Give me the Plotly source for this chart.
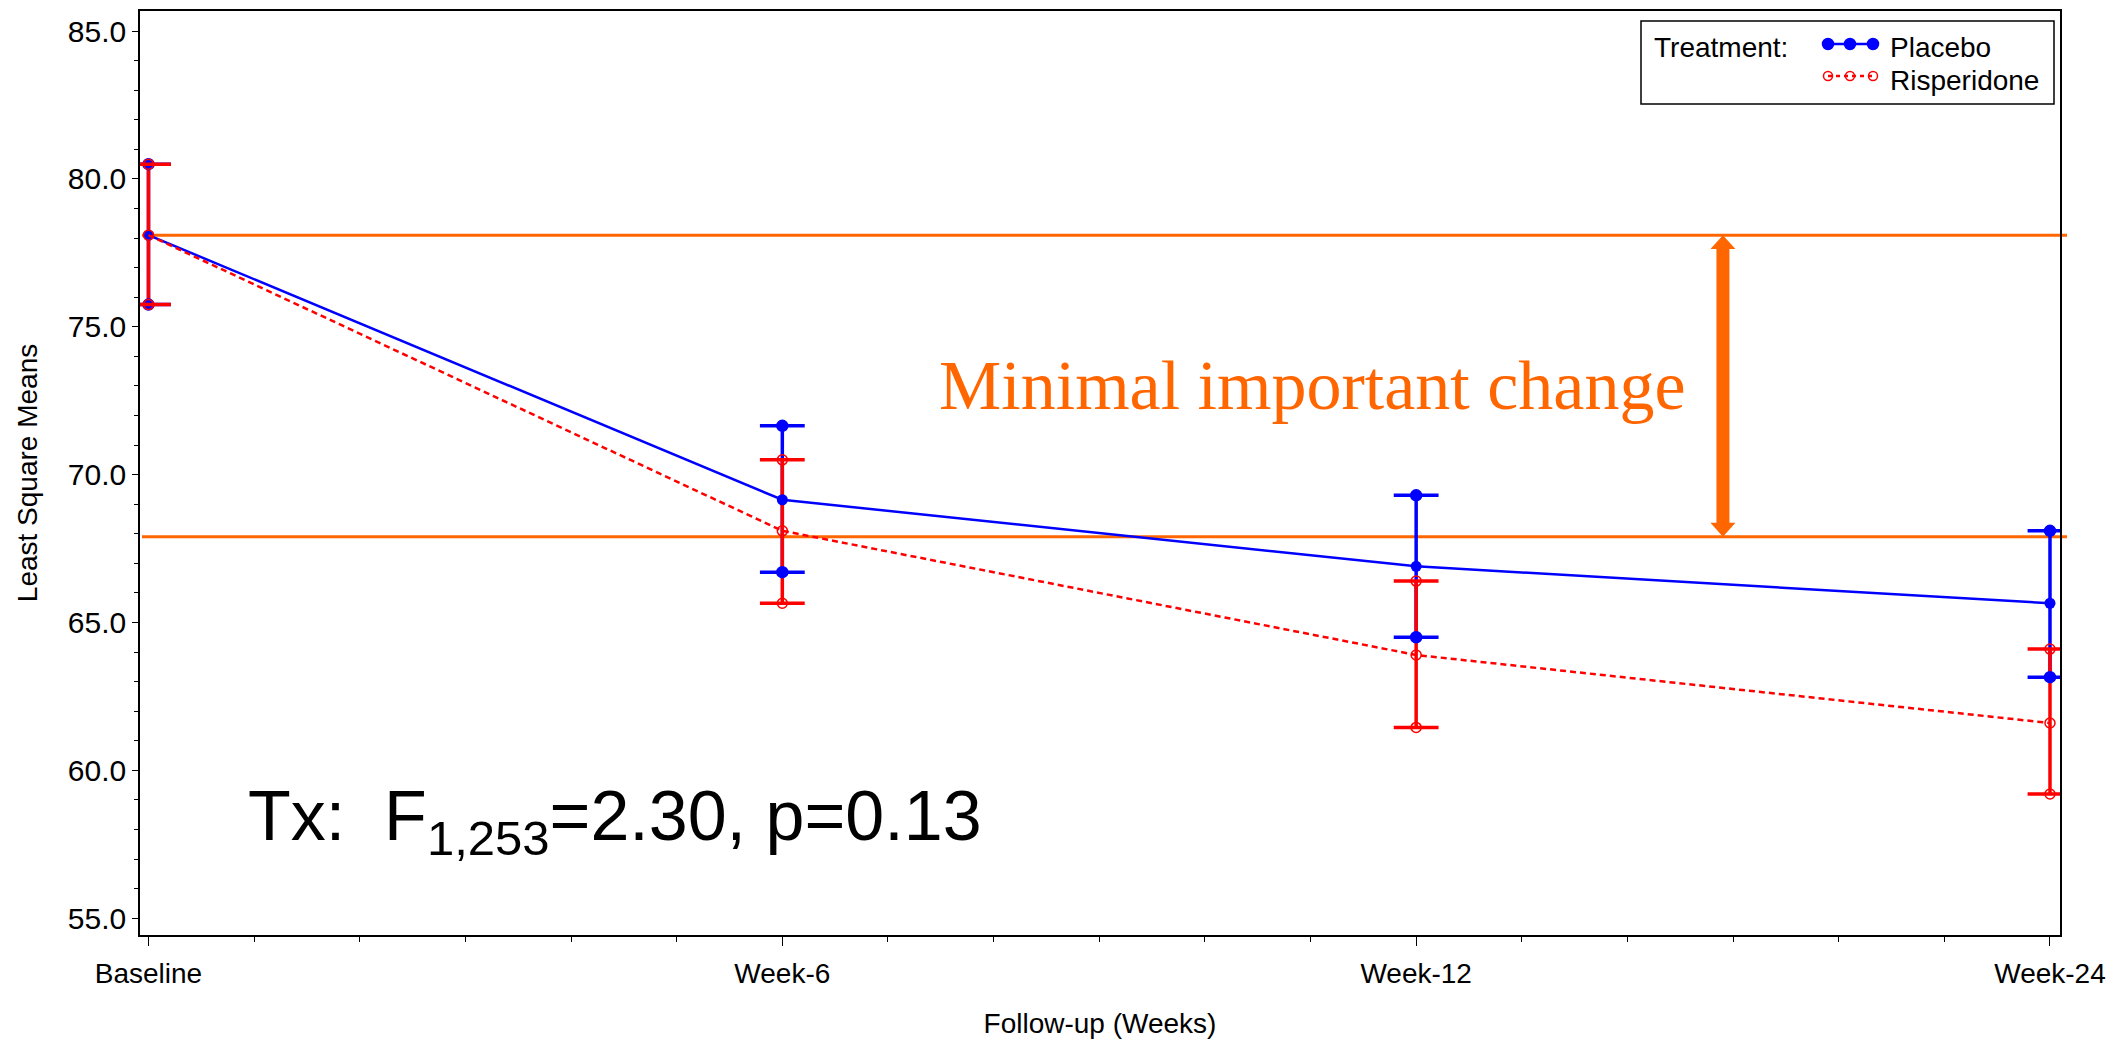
import plotly.graph_objects as go

# ---- data ----
visits = ["Baseline", "Week-6", "Week-12", "Week-24"]
placebo_mean = [78.1, 69.15, 66.9, 65.65]
placebo_upper = [80.5, 71.65, 69.3, 68.1]
placebo_lower = [75.75, 66.7, 64.5, 63.15]
risp_mean = [78.1, 68.1, 63.9, 61.6]
risp_upper = [80.5, 70.5, 66.4, 64.1]
risp_lower = [75.75, 65.65, 61.45, 59.2]
mic_upper = 78.1
mic_lower = 67.9
y_ticks = [55, 60, 65, 70, 75, 80, 85]

BLUE = "#0000FF"
RED = "#FF0000"
ORANGE = "#FF6600"
FONT = "Liberation Sans, Arial, sans-serif"

W, H = 2107, 1039
ML, MR, MT, MB = 140, 47, 11, 104
PW, PH = W - ML - MR, H - MT - MB

def px_x(p):  # page pixel -> paper x
    return (p - ML) / PW

def px_y(p):  # page pixel -> paper y
    return 1 - (p - MT) / PH

x = list(range(len(visits)))

fig = go.Figure()

def err(mean, up, lo):
    return dict(type="data", symmetric=False,
                array=[u - m for u, m in zip(up, mean)],
                arrayminus=[m - l for m, l in zip(mean, lo)])

# vertical CI bars (no caps)
for mean, up, lo, col in [(placebo_mean, placebo_upper, placebo_lower, BLUE),
                          (risp_mean, risp_upper, risp_lower, RED)]:
    e = err(mean, up, lo)
    e.update(color=col, thickness=3.5, width=0)
    fig.add_trace(go.Scatter(x=x, y=mean, mode="markers", marker=dict(size=1, opacity=0),
                             error_y=e, showlegend=False, hoverinfo="skip"))

# mean lines
fig.add_trace(go.Scatter(x=x, y=placebo_mean, mode="lines+markers", name="Placebo",
                         line=dict(color=BLUE, width=2.5), showlegend=False,
                         marker=dict(symbol="circle", size=11, color=BLUE)))
fig.add_trace(go.Scatter(x=x, y=risp_mean, mode="lines+markers", name="Risperidone",
                         line=dict(color=RED, width=2.5, dash="6px,4px"), showlegend=False,
                         marker=dict(symbol="circle-open", size=10, color=RED,
                                     line=dict(width=1.5, color=RED))))

# caps and CI end markers
for up, lo, col, sym, sz in [(placebo_upper, placebo_lower, BLUE, "circle", 11),
                             (risp_upper, risp_lower, RED, "circle-open", 10)]:
    ys = up + lo
    xs = x + x
    fig.add_trace(go.Scatter(x=xs, y=ys, mode="markers", showlegend=False, hoverinfo="skip",
                             marker=dict(symbol="line-ew-open", size=32, color=col,
                                         line=dict(width=3.5, color=col))))
    fig.add_trace(go.Scatter(x=xs, y=ys, mode="markers", showlegend=False, hoverinfo="skip",
                             marker=dict(symbol=sym, size=sz, color=col,
                                         line=dict(width=1.5, color=col))))

# MIC horizontal lines
for yv in (mic_upper, mic_lower):
    fig.add_shape(type="line", xref="paper", yref="y", x0=px_x(142), x1=px_x(2067), y0=yv, y1=yv,
                  line=dict(color=ORANGE, width=3), layer="below")

# double-headed arrow (pixel-width path anchored at an x position)
hw_shaft, hw_head = 6.5, 12.5
head = 14 / 29.57
t, b = mic_upper, mic_lower
path = (f"M 0 {t} L {hw_head} {t-head} L {hw_shaft} {t-head} L {hw_shaft} {b+head} "
        f"L {hw_head} {b+head} L 0 {b} L {-hw_head} {b+head} L {-hw_shaft} {b+head} "
        f"L {-hw_shaft} {t-head} L {-hw_head} {t-head} Z")
fig.add_shape(type="path", xref="x", yref="y", xsizemode="pixel", xanchor=2.484,
              path=path, fillcolor=ORANGE, line=dict(width=0))

fig.add_annotation(xref="paper", yref="paper", x=px_x(937), y=px_y(385),
                   xanchor="left", yanchor="middle", showarrow=False,
                   text="Minimal important change",
                   font=dict(family="Liberation Serif, Times New Roman, serif", size=70, color=ORANGE))

fig.add_annotation(xref="paper", yref="paper", x=px_x(246), y=px_y(821),
                   xanchor="left", yanchor="middle", showarrow=False,
                   text="Tx:  F<sub>1,253</sub>=2.30, p=0.13",
                   font=dict(family=FONT, size=70, color="black"))

# ---- manual legend (box, title, samples, labels) ----
fig.add_shape(type="rect", xref="paper", yref="paper",
              x0=px_x(1641), x1=px_x(2054), y0=px_y(104), y1=px_y(21),
              line=dict(color="black", width=1.5), fillcolor="white", layer="below")
row_y = [px_y(44), px_y(76)]
text_shift = 4 / PH
fig.add_annotation(xref="paper", yref="paper", x=px_x(1652), y=row_y[0] - text_shift, xanchor="left",
                   yanchor="middle", showarrow=False, text="Treatment:",
                   font=dict(family=FONT, size=28, color="black"))
sample_x = [px_x(1828), px_x(1850), px_x(1873)]
legend_items = [("Placebo", BLUE, "solid", "circle", 11),
                ("Risperidone", RED, "4px,4px", "circle-open", 9)]
for (name, col, dash, sym, sz), ry in zip(legend_items, row_y):
    fig.add_trace(go.Scatter(x=sample_x, y=[ry] * 3, xaxis="x2", yaxis="y2",
                             mode="lines+markers", showlegend=False, hoverinfo="skip",
                             line=dict(color=col, width=2.5, dash=dash),
                             marker=dict(symbol=sym, size=sz, color=col,
                                         line=dict(width=1.5, color=col))))
    fig.add_annotation(xref="paper", yref="paper", x=px_x(1888), y=ry - text_shift, xanchor="left",
                       yanchor="middle", showarrow=False, text=name,
                       font=dict(family=FONT, size=28, color="black"))

fig.update_layout(
    width=W, height=H,
    margin=dict(l=ML, r=MR, t=MT, b=MB),
    paper_bgcolor="white", plot_bgcolor="white",
    font=dict(family=FONT, size=28, color="black"),
    showlegend=False,
    xaxis=dict(range=[-0.0134, 3.0158], tickvals=x, ticktext=visits, automargin=False,
               showgrid=False, zeroline=False, showline=True, mirror=True,
               linecolor="black", linewidth=1.5, ticks="outside", ticklen=9,
               tickcolor="black", tickwidth=1, ticklabelstandoff=4,
               minor=dict(dtick=1/6, ticks="outside", ticklen=5, tickcolor="black", tickwidth=1),
               title=dict(text="Follow-up (Weeks)", font=dict(size=28), standoff=29),
               tickfont=dict(size=28)),
    yaxis=dict(range=[54.43, 85.68], tickvals=y_ticks, tickformat=".1f", automargin=False,
               showgrid=False, zeroline=False, showline=True, mirror=True,
               linecolor="black", linewidth=1.5, ticks="outside", ticklen=6,
               tickcolor="black", tickwidth=1,
               minor=dict(dtick=1, ticks="outside", ticklen=4, tickcolor="black", tickwidth=1),
               title=dict(text="Least Square Means", font=dict(size=28), standoff=22),
               tickfont=dict(size=30)),
    xaxis2=dict(overlaying="x", range=[0, 1], visible=False, fixedrange=True),
    yaxis2=dict(overlaying="y", range=[0, 1], visible=False, fixedrange=True),
)

fig.write_html("out.html", config={"displayModeBar": False},
               post_script="document.body.style.margin='0';document.body.style.overflow='hidden';")
